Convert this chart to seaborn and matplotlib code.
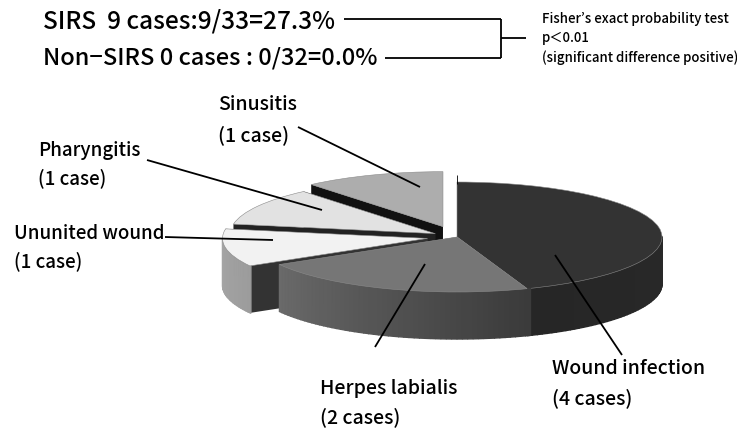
import numpy as np
import matplotlib
matplotlib.use('Agg')
import matplotlib.pyplot as plt
import seaborn as sns
from matplotlib.patches import Polygon

W, H = 737, 429
CX, CY, RX, RY = 457, 237, 205, 55
DEPTH = 47 / RY

categories = ['Wound infection', 'Herpes labialis', 'Ununited wound', 'Pharyngitis', 'Sinusitis']
cases = [4, 2, 1, 1, 1]
case_labels = ['(4 cases)', '(2 cases)', '(1 case)', '(1 case)', '(1 case)']
explode = [0, 0, 0.146, 0.122, 0.2]
top_cols = ['#333333', '#767676', '#f2f2f2', '#e2e2e2', '#adadad']
rim_cols = [('#262626', '#2c2c2c'), ('#6a6a6a', '#3a3a3a'), ('#a8a8a8', '#9c9c9c'),
            ('#999999', '#999999'), ('#888888', '#888888')]
face_cols = ['#222222', '#444444', '#333333', '#222222', '#111111']
draw_order = [4, 3, 2, 0, 1]

sns.set_theme(style='white')
plt.rcParams['font.family'] = ['Noto Sans CJK JP', 'DejaVu Sans']


def px(x, y):
    return (x - CX) / RX, (CY - y) / RY


fig = plt.figure(figsize=(W / 100, H / 100), dpi=100)
ax = fig.add_axes([0, 0, 1, 1])
wedges, _ = ax.pie(cases, startangle=90, counterclock=False, explode=explode,
                   colors=top_cols, wedgeprops={'edgecolor': '#8a8a8a', 'linewidth': 0.4})
ax.set_aspect('auto')
ax.set_xlim(px(0, 0)[0], px(W, 0)[0])
ax.set_ylim(px(0, H)[1], px(0, 0)[1])
ax.axis('off')

z = 2
for i in draw_order:
    w = wedges[i]
    x0, y0 = w.center
    t1, t2 = sorted((w.theta1, w.theta2))
    # radial cut faces
    for t in (t1, t2):
        xe, ye = x0 + np.cos(np.radians(t)), y0 + np.sin(np.radians(t))
        ax.add_patch(Polygon([(x0, y0), (xe, ye), (xe, ye - DEPTH), (x0, y0 - DEPTH)],
                             fc=face_cols[i], ec='none', zorder=z))
    # outer rim, front half only, shaded by angle
    angles = np.arange(t1, t2 + 1.5, 1.5)
    shades = sns.blend_palette(rim_cols[i], len(angles))
    for a, b, c in zip(angles[:-1], angles[1:], shades):
        if np.sin(np.radians((a + b) / 2)) > 0:
            continue
        xa, ya = x0 + np.cos(np.radians(a)), y0 + np.sin(np.radians(a))
        xb, yb = x0 + np.cos(np.radians(b)), y0 + np.sin(np.radians(b))
        ax.add_patch(Polygon([(xa, ya), (xb, yb), (xb, yb - DEPTH), (xa, ya - DEPTH)],
                             fc=c, ec=c, lw=1.0, zorder=z + 0.1))
    w.set_zorder(z + 0.2)
    z += 1


def seg(x1, y1, x2, y2, lw=1.3):
    a, b = px(x1, y1), px(x2, y2)
    ax.plot([a[0], b[0]], [a[1], b[1]], color='black', lw=lw, zorder=20, solid_capstyle='butt')


def label(x, y, s, size=13.5):
    a = px(x, y)
    ax.text(a[0], a[1], s, fontsize=size, color='black', ha='left', va='center',
            fontweight='medium', zorder=21)


# leader lines
seg(298, 127, 420, 187)
seg(147, 160, 322, 210)
seg(165, 237, 273, 240)
seg(375, 347, 425, 264)
seg(622, 355, 555, 255)
seg(457, 175, 457, 184, lw=0.6)

# slice labels
label(218, 104, categories[4], size=14)
label(218, 135, case_labels[4], size=14)
label(38, 150, categories[3])
label(38, 178, case_labels[3])
label(14, 233, categories[2])
label(14, 261, case_labels[2])
label(320, 389, categories[1], size=14)
label(320, 417, case_labels[1], size=14)
label(552, 369, categories[0], size=14)
label(552, 398, case_labels[0], size=14)

# header
label(43, 21, 'SIRS  9 cases:9/33=27.3%', size=17.6)
label(43, 58, 'Non\u2212SIRS 0 cases : 0/32=0.0%', size=17)
seg(344, 19, 501, 19)
seg(385, 58, 501, 58)
seg(501, 19, 501, 58)
seg(501, 38, 526, 38)
label(542, 19, 'Fisher\u2019s exact probability test', size=9.5)
label(542, 38, 'p\uff1c0.01', size=9.5)
label(542, 58, '(significant difference positive)', size=9.5)

fig.savefig('out.png', dpi=100, facecolor='white')
